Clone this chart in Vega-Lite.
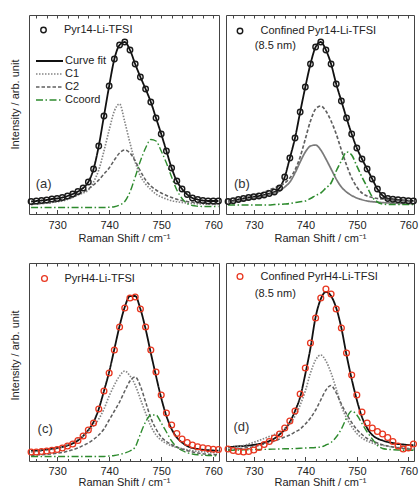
{
"$schema":"https://vega.github.io/schema/vega-lite/v6.json",
"padding":{"left":8,"top":14,"right":0,"bottom":0},
"config":{
 "font":"Liberation Sans",
 "view":{"stroke":"#444","strokeWidth":1},
 "axis":{"domain":false,"grid":false,"labelFont":"Liberation Sans","labelFontSize":11,"labelColor":"#222","titleFont":"Liberation Sans","titleFontSize":11,"titleFontWeight":"normal","titleColor":"#222","tickColor":"#444","tickWidth":1},
 "legend":{"labelFont":"Liberation Sans","labelFontSize":11,"labelColor":"#222","padding":0,"labelLimit":300},
 "text":{"font":"Liberation Sans"}
},
"data":{"values":[
{"p":"a","x":725,"o":12.5,"Curve fit":12.5,"C1":9.5,"C2":9.5,"Ccoord":6.5},
{"p":"a","x":726,"o":13,"Curve fit":13,"C1":10,"C2":10,"Ccoord":6.5},
{"p":"a","x":727,"o":13.5,"Curve fit":13.5,"C1":10.5,"C2":10.5,"Ccoord":6.5},
{"p":"a","x":728,"o":14,"Curve fit":14,"C1":11,"C2":11,"Ccoord":6.5},
{"p":"a","x":729,"o":15,"Curve fit":15,"C1":11.5,"C2":11.5,"Ccoord":6.5},
{"p":"a","x":730,"o":15.5,"Curve fit":15.5,"C1":12.3,"C2":12.5,"Ccoord":6.5},
{"p":"a","x":731,"o":16.5,"Curve fit":16.5,"C1":13,"C2":13.5,"Ccoord":6.5},
{"p":"a","x":732,"o":18,"Curve fit":18,"C1":14.5,"C2":15,"Ccoord":6.5},
{"p":"a","x":733,"o":20,"Curve fit":20,"C1":16.5,"C2":17,"Ccoord":6.5},
{"p":"a","x":734,"o":22.5,"Curve fit":22.5,"C1":19,"C2":19.5,"Ccoord":6.5},
{"p":"a","x":735,"o":26,"Curve fit":26,"C1":21,"C2":22,"Ccoord":6.5},
{"p":"a","x":736,"o":32,"Curve fit":32,"C1":24,"C2":25,"Ccoord":6.5},
{"p":"a","x":737,"o":45,"Curve fit":45,"C1":32,"C2":29,"Ccoord":6.5},
{"p":"a","x":738,"o":68,"Curve fit":68,"C1":44,"C2":34,"Ccoord":6.5},
{"p":"a","x":739,"o":98,"Curve fit":98,"C1":63,"C2":40,"Ccoord":6.5},
{"p":"a","x":740,"o":128,"Curve fit":128,"C1":84,"C2":46,"Ccoord":6.8},
{"p":"a","x":741,"o":155,"Curve fit":155,"C1":103,"C2":54,"Ccoord":7.3},
{"p":"a","x":742,"o":169,"Curve fit":169,"C1":110,"C2":61,"Ccoord":9},
{"p":"a","x":743,"o":172,"Curve fit":172,"C1":92,"C2":64,"Ccoord":12.5},
{"p":"a","x":744,"o":164,"Curve fit":164,"C1":71,"C2":61,"Ccoord":22},
{"p":"a","x":745,"o":150,"Curve fit":150,"C1":52,"C2":53,"Ccoord":37},
{"p":"a","x":746,"o":137,"Curve fit":137,"C1":38,"C2":43,"Ccoord":53},
{"p":"a","x":747,"o":125,"Curve fit":125,"C1":30,"C2":34,"Ccoord":66},
{"p":"a","x":748,"o":112,"Curve fit":112,"C1":24.5,"C2":28,"Ccoord":74.5},
{"p":"a","x":749,"o":96,"Curve fit":96,"C1":20,"C2":24,"Ccoord":73},
{"p":"a","x":750,"o":80,"Curve fit":80,"C1":17,"C2":21,"Ccoord":63},
{"p":"a","x":751,"o":63,"Curve fit":63,"C1":15,"C2":18.5,"Ccoord":51},
{"p":"a","x":752,"o":46,"Curve fit":46,"C1":13.3,"C2":16.5,"Ccoord":37},
{"p":"a","x":753,"o":33,"Curve fit":33,"C1":12.3,"C2":14.8,"Ccoord":24},
{"p":"a","x":754,"o":25,"Curve fit":25,"C1":11.5,"C2":13.5,"Ccoord":15.5},
{"p":"a","x":755,"o":19.5,"Curve fit":19.5,"C1":11,"C2":12.5,"Ccoord":10.5},
{"p":"a","x":756,"o":16,"Curve fit":16,"C1":10.5,"C2":11.8,"Ccoord":8.5},
{"p":"a","x":757,"o":14.5,"Curve fit":14.5,"C1":10.2,"C2":11.2,"Ccoord":7.8},
{"p":"a","x":758,"o":13.5,"Curve fit":13.5,"C1":10,"C2":10.8,"Ccoord":7.5},
{"p":"a","x":759,"o":13,"Curve fit":13,"C1":9.8,"C2":10.4,"Ccoord":7.5},
{"p":"a","x":760,"o":13,"Curve fit":13,"C1":9.6,"C2":10.1,"Ccoord":7.5},
{"p":"a","x":761,"o":13,"Curve fit":13,"C1":9.5,"C2":10,"Ccoord":7.5},
{"p":"b","x":725,"o":12.5,"Curve fit":12.5,"C1":12,"C2":14,"Ccoord":9},
{"p":"b","x":726,"o":13.3,"Curve fit":13.3,"C1":12.5,"C2":14.5,"Ccoord":9},
{"p":"b","x":727,"o":14.5,"Curve fit":14.5,"C1":13,"C2":15,"Ccoord":9},
{"p":"b","x":728,"o":15.5,"Curve fit":15.5,"C1":13.5,"C2":16,"Ccoord":9},
{"p":"b","x":729,"o":16.5,"Curve fit":16.5,"C1":14.5,"C2":17,"Ccoord":9},
{"p":"b","x":730,"o":17.3,"Curve fit":17.3,"C1":15.5,"C2":18,"Ccoord":9},
{"p":"b","x":731,"o":18,"Curve fit":18,"C1":16.5,"C2":19.5,"Ccoord":9},
{"p":"b","x":732,"o":19,"Curve fit":19,"C1":18,"C2":21.5,"Ccoord":9},
{"p":"b","x":733,"o":20.5,"Curve fit":20.5,"C1":19.5,"C2":24,"Ccoord":9},
{"p":"b","x":734,"o":22,"Curve fit":22,"C1":21,"C2":26,"Ccoord":9.5},
{"p":"b","x":735,"o":26,"Curve fit":26,"C1":23,"C2":28,"Ccoord":9.7},
{"p":"b","x":736,"o":37,"Curve fit":37,"C1":27,"C2":31,"Ccoord":10},
{"p":"b","x":737,"o":56,"Curve fit":56,"C1":32,"C2":36,"Ccoord":10.5},
{"p":"b","x":738,"o":76,"Curve fit":76,"C1":41,"C2":44,"Ccoord":11.5},
{"p":"b","x":739,"o":102,"Curve fit":102,"C1":52,"C2":57,"Ccoord":12.3},
{"p":"b","x":740,"o":127,"Curve fit":127,"C1":62,"C2":75,"Ccoord":13},
{"p":"b","x":741,"o":150,"Curve fit":150,"C1":68,"C2":93,"Ccoord":15.5},
{"p":"b","x":742,"o":167,"Curve fit":167,"C1":69,"C2":105,"Ccoord":18.5},
{"p":"b","x":743,"o":172,"Curve fit":172,"C1":64,"C2":108,"Ccoord":21},
{"p":"b","x":744,"o":164,"Curve fit":164,"C1":55,"C2":103,"Ccoord":26},
{"p":"b","x":745,"o":150,"Curve fit":150,"C1":45,"C2":93,"Ccoord":31},
{"p":"b","x":746,"o":130,"Curve fit":130,"C1":35,"C2":80,"Ccoord":43},
{"p":"b","x":747,"o":113,"Curve fit":113,"C1":27,"C2":64,"Ccoord":53},
{"p":"b","x":748,"o":96,"Curve fit":96,"C1":22,"C2":49,"Ccoord":62},
{"p":"b","x":749,"o":80,"Curve fit":80,"C1":18.5,"C2":36,"Ccoord":59},
{"p":"b","x":750,"o":66,"Curve fit":66,"C1":16,"C2":27,"Ccoord":48},
{"p":"b","x":751,"o":55,"Curve fit":55,"C1":14.3,"C2":21,"Ccoord":37},
{"p":"b","x":752,"o":45,"Curve fit":45,"C1":13,"C2":18,"Ccoord":27},
{"p":"b","x":753,"o":35,"Curve fit":35,"C1":12.3,"C2":16.5,"Ccoord":17},
{"p":"b","x":754,"o":25,"Curve fit":25,"C1":11.8,"C2":15.5,"Ccoord":12},
{"p":"b","x":755,"o":18.5,"Curve fit":18.5,"C1":11.4,"C2":15,"Ccoord":10},
{"p":"b","x":756,"o":15.5,"Curve fit":15.5,"C1":11.1,"C2":14.5,"Ccoord":9.6},
{"p":"b","x":757,"o":14.8,"Curve fit":14.8,"C1":10.9,"C2":14,"Ccoord":9.5},
{"p":"b","x":758,"o":14.2,"Curve fit":14.2,"C1":10.7,"C2":13.7,"Ccoord":9.5},
{"p":"b","x":759,"o":13.7,"Curve fit":13.7,"C1":10.5,"C2":13.4,"Ccoord":9.5},
{"p":"b","x":760,"o":13.3,"Curve fit":13.3,"C1":10.3,"C2":13.2,"Ccoord":9.5},
{"p":"b","x":761,"o":13,"Curve fit":13,"C1":10.2,"C2":13,"Ccoord":9.5},
{"p":"c","x":725,"o":9,"Curve fit":10,"C1":9,"C2":5.5,"Ccoord":4.5},
{"p":"c","x":726,"o":9,"Curve fit":10.3,"C1":9.5,"C2":6,"Ccoord":4.5},
{"p":"c","x":727,"o":9.5,"Curve fit":10.8,"C1":10,"C2":6.3,"Ccoord":4.5},
{"p":"c","x":728,"o":10,"Curve fit":11.5,"C1":10.8,"C2":6.7,"Ccoord":4.5},
{"p":"c","x":729,"o":10.7,"Curve fit":12.2,"C1":11.5,"C2":7.2,"Ccoord":4.5},
{"p":"c","x":730,"o":11.5,"Curve fit":13,"C1":12.5,"C2":7.8,"Ccoord":4.5},
{"p":"c","x":731,"o":13,"Curve fit":14,"C1":14,"C2":8.5,"Ccoord":4.5},
{"p":"c","x":732,"o":15,"Curve fit":15.5,"C1":16.5,"C2":9.7,"Ccoord":4.5},
{"p":"c","x":733,"o":17,"Curve fit":17.5,"C1":19,"C2":11.3,"Ccoord":4.5},
{"p":"c","x":734,"o":20.5,"Curve fit":20.5,"C1":22,"C2":13,"Ccoord":4.5},
{"p":"c","x":735,"o":25,"Curve fit":25,"C1":25,"C2":15.5,"Ccoord":4.5},
{"p":"c","x":736,"o":31,"Curve fit":31,"C1":30,"C2":18,"Ccoord":4.5},
{"p":"c","x":737,"o":38,"Curve fit":39,"C1":35,"C2":21.5,"Ccoord":4.5},
{"p":"c","x":738,"o":52,"Curve fit":52,"C1":42,"C2":26,"Ccoord":4.5},
{"p":"c","x":739,"o":70,"Curve fit":70,"C1":52,"C2":32,"Ccoord":4.5},
{"p":"c","x":740,"o":88,"Curve fit":89,"C1":65,"C2":41,"Ccoord":5},
{"p":"c","x":741,"o":111,"Curve fit":112,"C1":76,"C2":50,"Ccoord":5.5},
{"p":"c","x":742,"o":134,"Curve fit":135,"C1":85,"C2":59,"Ccoord":6.5},
{"p":"c","x":743,"o":153,"Curve fit":154,"C1":90,"C2":70,"Ccoord":8},
{"p":"c","x":744,"o":163,"Curve fit":165,"C1":85,"C2":80,"Ccoord":10},
{"p":"c","x":745,"o":164,"Curve fit":165,"C1":76,"C2":84,"Ccoord":14},
{"p":"c","x":746,"o":152,"Curve fit":152,"C1":62,"C2":75,"Ccoord":27},
{"p":"c","x":747,"o":134,"Curve fit":132,"C1":48,"C2":59,"Ccoord":39},
{"p":"c","x":748,"o":111,"Curve fit":108,"C1":35,"C2":43,"Ccoord":46},
{"p":"c","x":749,"o":89,"Curve fit":85,"C1":26,"C2":32,"Ccoord":46},
{"p":"c","x":750,"o":66,"Curve fit":63,"C1":21,"C2":24,"Ccoord":38},
{"p":"c","x":751,"o":48,"Curve fit":45,"C1":17.5,"C2":19.5,"Ccoord":29},
{"p":"c","x":752,"o":36,"Curve fit":32,"C1":15,"C2":16.3,"Ccoord":20},
{"p":"c","x":753,"o":27.5,"Curve fit":23.5,"C1":13.5,"C2":14,"Ccoord":14},
{"p":"c","x":754,"o":22,"Curve fit":18.5,"C1":12.3,"C2":12,"Ccoord":10.5},
{"p":"c","x":755,"o":18.5,"Curve fit":15,"C1":11.3,"C2":10.3,"Ccoord":8.3},
{"p":"c","x":756,"o":16,"Curve fit":13,"C1":10.3,"C2":9,"Ccoord":7},
{"p":"c","x":757,"o":14.3,"Curve fit":12,"C1":9.7,"C2":8,"Ccoord":6.2},
{"p":"c","x":758,"o":13.2,"Curve fit":11.3,"C1":9.2,"C2":7.2,"Ccoord":5.8},
{"p":"c","x":759,"o":12.4,"Curve fit":10.8,"C1":8.8,"C2":6.8,"Ccoord":5.5},
{"p":"c","x":760,"o":11.8,"Curve fit":10.5,"C1":8.5,"C2":6.5,"Ccoord":5.3},
{"p":"c","x":761,"o":11.5,"Curve fit":10.3,"C1":8.3,"C2":6.3,"Ccoord":5.2},
{"p":"d","x":725,"o":12,"Curve fit":14,"C1":13,"C2":11.3,"Ccoord":10.7},
{"p":"d","x":726,"o":10.5,"Curve fit":14.3,"C1":13.5,"C2":11.7,"Ccoord":10.8},
{"p":"d","x":727,"o":9.5,"Curve fit":14.7,"C1":14.2,"C2":12.2,"Ccoord":11},
{"p":"d","x":728,"o":9,"Curve fit":15,"C1":15.5,"C2":12.8,"Ccoord":11.1},
{"p":"d","x":729,"o":9.5,"Curve fit":15.5,"C1":17,"C2":13.5,"Ccoord":11.2},
{"p":"d","x":730,"o":11,"Curve fit":16.2,"C1":18.7,"C2":14.3,"Ccoord":11.3},
{"p":"d","x":731,"o":13.5,"Curve fit":17,"C1":20.5,"C2":15.5,"Ccoord":11.5},
{"p":"d","x":732,"o":16.5,"Curve fit":18.2,"C1":22.5,"C2":17,"Ccoord":11.6},
{"p":"d","x":733,"o":19.5,"Curve fit":20,"C1":24.5,"C2":18.5,"Ccoord":11.8},
{"p":"d","x":734,"o":23,"Curve fit":22.5,"C1":26.5,"C2":20,"Ccoord":11.9},
{"p":"d","x":735,"o":27,"Curve fit":26.5,"C1":29,"C2":22,"Ccoord":12},
{"p":"d","x":736,"o":33,"Curve fit":31.5,"C1":32.5,"C2":24,"Ccoord":12.2},
{"p":"d","x":737,"o":40,"Curve fit":39,"C1":37.5,"C2":26,"Ccoord":12.3},
{"p":"d","x":738,"o":50,"Curve fit":50,"C1":45,"C2":29,"Ccoord":12.5},
{"p":"d","x":739,"o":67,"Curve fit":64,"C1":56,"C2":32,"Ccoord":12.7},
{"p":"d","x":740,"o":93,"Curve fit":87,"C1":70,"C2":37,"Ccoord":13},
{"p":"d","x":741,"o":118,"Curve fit":113,"C1":88,"C2":43,"Ccoord":13.2},
{"p":"d","x":742,"o":143,"Curve fit":144,"C1":101,"C2":51,"Ccoord":13.5},
{"p":"d","x":743,"o":163,"Curve fit":162,"C1":106,"C2":61,"Ccoord":14},
{"p":"d","x":744,"o":172,"Curve fit":169,"C1":100,"C2":71,"Ccoord":16},
{"p":"d","x":745,"o":167,"Curve fit":165,"C1":88,"C2":75.5,"Ccoord":18.5},
{"p":"d","x":746,"o":152,"Curve fit":153,"C1":72,"C2":68,"Ccoord":24},
{"p":"d","x":747,"o":133,"Curve fit":133,"C1":55,"C2":57,"Ccoord":32},
{"p":"d","x":748,"o":108,"Curve fit":106,"C1":43,"C2":47,"Ccoord":43},
{"p":"d","x":749,"o":86,"Curve fit":82,"C1":34.5,"C2":38.5,"Ccoord":50},
{"p":"d","x":750,"o":66,"Curve fit":61,"C1":27.5,"C2":31.5,"Ccoord":46},
{"p":"d","x":751,"o":49,"Curve fit":44,"C1":23,"C2":26.5,"Ccoord":37.5},
{"p":"d","x":752,"o":38,"Curve fit":33,"C1":20,"C2":22.5,"Ccoord":29},
{"p":"d","x":753,"o":33,"Curve fit":26,"C1":18,"C2":20,"Ccoord":22},
{"p":"d","x":754,"o":29.5,"Curve fit":22.5,"C1":16.7,"C2":18,"Ccoord":15.5},
{"p":"d","x":755,"o":27,"Curve fit":20.5,"C1":15.7,"C2":16.3,"Ccoord":12.5},
{"p":"d","x":756,"o":23.5,"Curve fit":19,"C1":14.7,"C2":15,"Ccoord":11.7},
{"p":"d","x":757,"o":19.5,"Curve fit":18,"C1":14,"C2":14,"Ccoord":11.3},
{"p":"d","x":758,"o":15,"Curve fit":17,"C1":13.5,"C2":13.2,"Ccoord":11},
{"p":"d","x":759,"o":12,"Curve fit":16.5,"C1":13,"C2":12.6,"Ccoord":10.8},
{"p":"d","x":760,"o":13,"Curve fit":16,"C1":12.6,"C2":12.1,"Ccoord":10.7},
{"p":"d","x":761,"o":17,"Curve fit":15.7,"C1":12.3,"C2":11.7,"Ccoord":10.7}
]},
"spacing":18,
"resolve":{"scale":{"color":"independent","strokeDash":"independent","strokeWidth":"independent","stroke":"independent"}},
"vconcat":[
{"spacing":-3,
 "resolve":{"scale":{"color":"independent","strokeDash":"independent","strokeWidth":"independent","stroke":"independent"}},
 "hconcat":[
 {"width":190,"height":199,
  "transform":[{"filter":"datum.p == 'a'"}],
  "resolve":{"axis":{"x":"independent"}},
  "layer":[
   {"transform":[{"fold":["Curve fit","C1","C2","Ccoord"],"as":["k","v"]}],
    "mark":{"type":"line","interpolate":"monotone"},
    "encoding":{
     "x":{"field":"x","type":"quantitative","scale":{"domain":[724.6,761.1],"nice":false,"zero":false},"axis":{"orient":"bottom","values":[730,740,750,760],"tickSize":-4.5,"labelPadding":9.5,"title":"Raman Shift / cm⁻¹","titlePadding":2}},
     "y":{"field":"v","type":"quantitative","scale":{"domain":[0,199],"nice":false,"zero":false},"axis":{"title":"Intensity / arb. unit","ticks":true,"tickSize":0,"tickCount":2,"labels":false,"titleX":-14,"titleY":89,"titleAngle":-90,"titleAlign":"center","titleBaseline":"middle"}},
     "color":{"field":"k","type":"nominal","scale":{"domain":["Curve fit","C1","C2","Ccoord"],"range":["#111111","#858585","#606060","#2e8b2e"]},"legend":{"title":null,"orient":"none","legendX":14.5,"legendY":40,"symbolType":"M-2.7,0L2.7,0","symbolSize":100,"labelOffset":9.5,"rowPadding":2}},
     "strokeDash":{"field":"k","type":"nominal","scale":{"domain":["Curve fit","C1","C2","Ccoord"],"range":[[1,0],[1.5,1.5],[3.5,2],[7,2.5,1.5,2.5]]}},
     "strokeWidth":{"field":"k","type":"ordinal","scale":{"domain":["Curve fit","C1","C2","Ccoord"],"range":[1.8,1.4,1.4,1.4]}}
    }},
   {"mark":{"type":"point","shape":"circle","filled":false,"size":30,"strokeWidth":1.4,"opacity":1},
    "encoding":{
     "x":{"field":"x","type":"quantitative","axis":{"orient":"bottom","values":[726,728,732,734,736,738,742,744,746,748,752,754,756,758],"tickSize":-2.5,"labels":false,"title":null}},
     "y":{"field":"o","type":"quantitative","scale":{"domain":[0,199],"nice":false,"zero":false}},
     "stroke":{"datum":"Pyr14-Li-TFSI","type":"nominal","scale":{"range":["#1a1a1a"]},"legend":{"title":null,"orient":"none","legendX":9,"legendY":9.5,"labelOffset":15,"symbolSize":30,"symbolStrokeWidth":1.4}}
    }},
   {"data":{"values":[{}]},
    "mark":{"type":"text","fontSize":13,"color":"#333","align":"center","baseline":"middle"},
    "encoding":{
     "x":{"datum":727.4,"type":"quantitative","axis":{"orient":"top","values":[726,728,730,732,734,736,738,740,742,744,746,748,750,752,754,756,758,760],"tickSize":-3,"labels":false,"title":null}},
     "y":{"datum":30,"type":"quantitative"},
     "text":{"value":"(a)"}
    }}
  ]},
 {"width":188,"height":199,
  "transform":[{"filter":"datum.p == 'b'"}],
  "resolve":{"axis":{"x":"independent"}},
  "layer":[
   {"transform":[{"fold":["Curve fit","C1","C2","Ccoord"],"as":["k","v"]}],
    "mark":{"type":"line","interpolate":"monotone"},
    "encoding":{
     "x":{"field":"x","type":"quantitative","scale":{"domain":[724.6,761.1],"nice":false,"zero":false},"axis":{"orient":"bottom","values":[730,740,750,760],"tickSize":-4.5,"labelPadding":9.5,"title":"Raman Shift / cm⁻¹","titlePadding":2}},
     "y":{"field":"v","type":"quantitative","scale":{"domain":[0,199],"nice":false,"zero":false},"axis":null},
     "color":{"field":"k","type":"nominal","scale":{"domain":["Curve fit","C1","C2","Ccoord"],"range":["#111111","#7a7a7a","#606060","#2e8b2e"]},"legend":null},
     "strokeDash":{"field":"k","type":"nominal","scale":{"domain":["Curve fit","C1","C2","Ccoord"],"range":[[1,0],[1,0],[3.5,2],[7,2.5,1.5,2.5]]},"legend":null},
     "strokeWidth":{"field":"k","type":"ordinal","scale":{"domain":["Curve fit","C1","C2","Ccoord"],"range":[1.8,1.6,1.4,1.4]},"legend":null}
    }},
   {"mark":{"type":"point","shape":"circle","filled":false,"size":30,"strokeWidth":1.4,"opacity":1},
    "encoding":{
     "x":{"field":"x","type":"quantitative","axis":{"orient":"bottom","values":[726,728,732,734,736,738,742,744,746,748,752,754,756,758],"tickSize":-2.5,"labels":false,"title":null}},
     "y":{"field":"o","type":"quantitative","scale":{"domain":[0,199],"nice":false,"zero":false},"axis":null},
     "stroke":{"datum":"Confined Pyr14-Li-TFSI","type":"nominal","scale":{"range":["#1a1a1a"]},"legend":{"title":null,"orient":"none","legendX":8.5,"legendY":10.5,"labelOffset":15,"symbolSize":30,"symbolStrokeWidth":1.4}}
    }},
   {"data":{"values":[{}]},
    "mark":{"type":"text","fontSize":13,"color":"#333","align":"center","baseline":"middle"},
    "encoding":{
     "x":{"datum":727.7,"type":"quantitative","axis":{"orient":"top","values":[726,728,730,732,734,736,738,740,742,744,746,748,750,752,754,756,758,760],"tickSize":-3,"labels":false,"title":null}},
     "y":{"datum":30,"type":"quantitative","axis":null},
     "text":{"value":"(b)"}
    }},
   {"data":{"values":[{}]},
    "mark":{"type":"text","fontSize":11,"color":"#222","align":"left","baseline":"middle"},
    "encoding":{
     "x":{"datum":730.2,"type":"quantitative","axis":null},
     "y":{"datum":168,"type":"quantitative","axis":null},
     "text":{"value":"(8.5 nm)"}
    }}
  ]}
 ]},
{"spacing":-3,
 "resolve":{"scale":{"color":"independent","strokeDash":"independent","strokeWidth":"independent","stroke":"independent"}},
 "hconcat":[
 {"width":190,"height":198,
  "transform":[{"filter":"datum.p == 'c'"}],
  "resolve":{"axis":{"x":"independent"}},
  "layer":[
   {"transform":[{"fold":["Curve fit","C1","C2","Ccoord"],"as":["k","v"]}],
    "mark":{"type":"line","interpolate":"monotone"},
    "encoding":{
     "x":{"field":"x","type":"quantitative","scale":{"domain":[724.6,761.1],"nice":false,"zero":false},"axis":{"orient":"bottom","values":[730,740,750,760],"tickSize":-4.5,"labelPadding":9,"title":"Raman Shift / cm⁻¹","titlePadding":0}},
     "y":{"field":"v","type":"quantitative","scale":{"domain":[0,198],"nice":false,"zero":false},"axis":{"title":"Intensity / arb. unit","ticks":true,"tickSize":0,"tickCount":2,"labels":false,"titleX":-14,"titleY":92,"titleAngle":-90,"titleAlign":"center","titleBaseline":"middle"}},
     "color":{"field":"k","type":"nominal","scale":{"domain":["Curve fit","C1","C2","Ccoord"],"range":["#111111","#858585","#606060","#2e8b2e"]},"legend":null},
     "strokeDash":{"field":"k","type":"nominal","scale":{"domain":["Curve fit","C1","C2","Ccoord"],"range":[[1,0],[1.5,1.5],[3.5,2],[7,2.5,1.5,2.5]]},"legend":null},
     "strokeWidth":{"field":"k","type":"ordinal","scale":{"domain":["Curve fit","C1","C2","Ccoord"],"range":[1.8,1.4,1.4,1.4]},"legend":null}
    }},
   {"mark":{"type":"point","shape":"circle","filled":false,"size":34,"strokeWidth":1.3,"opacity":1},
    "encoding":{
     "x":{"field":"x","type":"quantitative","axis":{"orient":"bottom","values":[726,728,732,734,736,738,742,744,746,748,752,754,756,758],"tickSize":-2.5,"labels":false,"title":null}},
     "y":{"field":"o","type":"quantitative","scale":{"domain":[0,198],"nice":false,"zero":false}},
     "stroke":{"datum":"PyrH4-Li-TFSI","type":"nominal","scale":{"range":["#e8361f"]},"legend":{"title":null,"orient":"none","legendX":10,"legendY":10,"labelOffset":14.5,"symbolSize":34,"symbolStrokeWidth":1.3}}
    }},
   {"data":{"values":[{}]},
    "mark":{"type":"text","fontSize":13,"color":"#333","align":"center","baseline":"middle"},
    "encoding":{
     "x":{"datum":727.7,"type":"quantitative","axis":{"orient":"top","values":[726,728,730,732,734,736,738,740,742,744,746,748,750,752,754,756,758,760],"tickSize":-3,"labels":false,"title":null}},
     "y":{"datum":32,"type":"quantitative"},
     "text":{"value":"(c)"}
    }}
  ]},
 {"width":188,"height":198,
  "transform":[{"filter":"datum.p == 'd'"}],
  "resolve":{"axis":{"x":"independent"}},
  "layer":[
   {"transform":[{"fold":["Curve fit","C1","C2","Ccoord"],"as":["k","v"]}],
    "mark":{"type":"line","interpolate":"monotone"},
    "encoding":{
     "x":{"field":"x","type":"quantitative","scale":{"domain":[724.6,761.1],"nice":false,"zero":false},"axis":{"orient":"bottom","values":[730,740,750,760],"tickSize":-4.5,"labelPadding":9,"title":"Raman Shift / cm⁻¹","titlePadding":0}},
     "y":{"field":"v","type":"quantitative","scale":{"domain":[0,198],"nice":false,"zero":false},"axis":null},
     "color":{"field":"k","type":"nominal","scale":{"domain":["Curve fit","C1","C2","Ccoord"],"range":["#111111","#858585","#606060","#2e8b2e"]},"legend":null},
     "strokeDash":{"field":"k","type":"nominal","scale":{"domain":["Curve fit","C1","C2","Ccoord"],"range":[[1,0],[1.5,1.5],[3.5,2],[7,2.5,1.5,2.5]]},"legend":null},
     "strokeWidth":{"field":"k","type":"ordinal","scale":{"domain":["Curve fit","C1","C2","Ccoord"],"range":[1.8,1.4,1.4,1.4]},"legend":null}
    }},
   {"mark":{"type":"point","shape":"circle","filled":false,"size":34,"strokeWidth":1.3,"opacity":1},
    "encoding":{
     "x":{"field":"x","type":"quantitative","axis":{"orient":"bottom","values":[726,728,732,734,736,738,742,744,746,748,752,754,756,758],"tickSize":-2.5,"labels":false,"title":null}},
     "y":{"field":"o","type":"quantitative","scale":{"domain":[0,198],"nice":false,"zero":false},"axis":null},
     "stroke":{"datum":"Confined PyrH4-Li-TFSI","type":"nominal","scale":{"range":["#e8361f"]},"legend":{"title":null,"orient":"none","legendX":8.5,"legendY":8,"labelOffset":15,"symbolSize":34,"symbolStrokeWidth":1.3}}
    }},
   {"data":{"values":[{}]},
    "mark":{"type":"text","fontSize":13,"color":"#333","align":"center","baseline":"middle"},
    "encoding":{
     "x":{"datum":727.6,"type":"quantitative","axis":{"orient":"top","values":[726,728,730,732,734,736,738,740,742,744,746,748,750,752,754,756,758,760],"tickSize":-3,"labels":false,"title":null}},
     "y":{"datum":34,"type":"quantitative","axis":null},
     "text":{"value":"(d)"}
    }},
   {"data":{"values":[{}]},
    "mark":{"type":"text","fontSize":11,"color":"#222","align":"left","baseline":"middle"},
    "encoding":{
     "x":{"datum":730.2,"type":"quantitative","axis":null},
     "y":{"datum":167.3,"type":"quantitative","axis":null},
     "text":{"value":"(8.5 nm)"}
    }}
  ]}
 ]}
]
}
